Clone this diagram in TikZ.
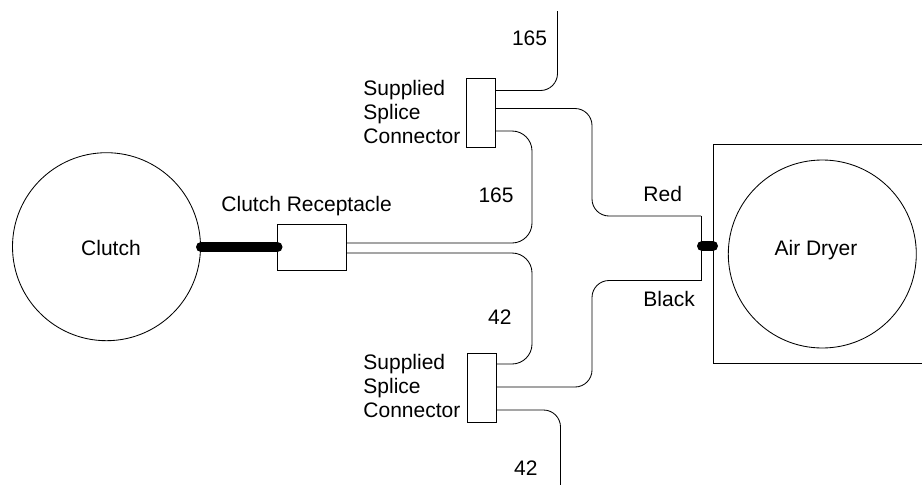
\documentclass[tikz,border=0pt]{standalone}
\usepackage{fontspec}
\setmainfont{Liberation Sans}
\usetikzlibrary{positioning}
\tikzset{
  wire/.style={draw=black, line width=0.85pt, rounded corners=17},
  part/.style={draw, line width=0.85pt, inner sep=0},
  tag/.style={inner sep=0, font=\fontsize{21}{24}\selectfont, align=left},
  harness/.style={line width=10pt, line cap=round},
}
\begin{document}
\begin{tikzpicture}[x=1pt, y=-1pt, line width=0.85pt]
  \useasboundingbox (0,0) rectangle (922,485);
  \node [part, circle, minimum size=188] (clutch) at (106.5,246.7) {};
  \node [part, circle, minimum size=188] (dryer) at (822.3,254) {};
  \node [tag] (clutchtag) at (111,248) {Clutch};
  \node [tag] (dryertag) at (816,250) {Air Dryer};
  \node [part, minimum width=69.5, minimum height=46] (recept) at (312,247) {};
  \node [part, minimum width=28.5, minimum height=69] (splicetop) at (481,112.5) {};
  \node [part, minimum width=28.5, minimum height=69] (splicebot) at (482,387.5) {};
  \draw (922,144) -- (713,144) -- (713,363) -- (922,363);
  \coordinate (topend) at (557.5,11);
  \coordinate (botend) at (560.5,485);
  \coordinate (redend) at (701,216);
  \coordinate (blackend) at (701,280.5);
  % wires
  \draw [wire] (splicetop.east |- 0,90.5) -| (topend);
  \draw [wire] (splicetop.east |- 0,108.5) -- (592,108.5) -- (592,216) -- (redend);
  \draw [wire] (splicebot.east |- 0,387) -- (592,387) -- (592,280.5) -- (blackend);
  \draw [wire, rounded corners=20] (splicetop.east |- 0,131) -- (532,131) -- (532,243) -- (recept.east |- 0,243);
  \draw [wire, rounded corners=20] (recept.east |- 0,253) -- (532,253) -- (532,364) -- (splicebot.east |- 0,364);
  \draw [wire] (splicebot.east |- 0,410) -| (botend);
  \draw (redend) -- (blackend);
  \draw [harness] (201,247) -- (277.5,247);
  \coordinate (pillstart) at (702,246);
  \coordinate (pillend) at (713,246);
  \draw [harness] (pillstart) -- (pillend);
  % labels
  \node [tag, anchor=west] (recepttag) at (221,206) {Clutch Receptacle};
  \node [tag, anchor=east] (toptag) at (547.5,38) {165};
  \node [tag, anchor=east] (midtag) at (514,195) {165};
  \node [tag, anchor=east] (lowtag) at (512,317) {42};
  \node [tag, anchor=east] (bottag) at (538,468) {42};
  \node [tag, anchor=west] (redtag) at (643,194) {Red};
  \node [tag, anchor=west] (blacktag) at (643,299) {Black};
  \node [tag, anchor=west] (toplabel) at (363,112) {Supplied\\Splice\\Connector};
  \node [tag, anchor=west] (botlabel) at (363,386) {Supplied\\Splice\\Connector};
\end{tikzpicture}
\end{document}
